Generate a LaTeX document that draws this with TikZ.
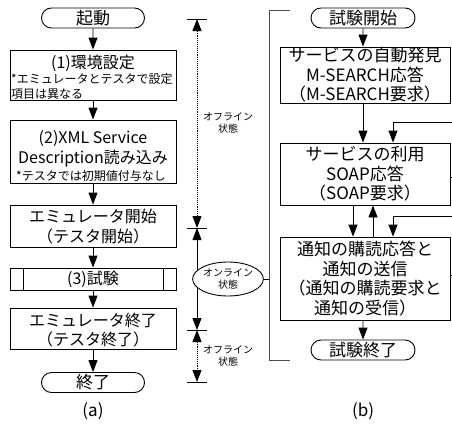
\documentclass[tikz,border=0pt]{standalone}
\usepackage{fontspec}
\setmainfont{Noto Sans CJK JP}
\usetikzlibrary{shapes.misc,shapes.geometric,arrows.meta}
\newcommand\szA{\fontsize{17}{19.5}\selectfont}
\newcommand\szB{\fontsize{16}{19}\selectfont}
\newcommand\szC{\fontsize{12}{14}\selectfont}
\newcommand\szD{\fontsize{10}{12}\selectfont}
\begin{document}
\begin{tikzpicture}[x=1pt,y=-1pt,
  ln/.style={line width=0.9pt, draw=black},
  box/.style={ln, rectangle, inner sep=0pt, minimum width=166pt},
  rbox/.style={ln, rectangle, inner sep=0pt, minimum width=170pt, align=center, font=\szA},
  term/.style={ln, rounded rectangle, inner sep=0pt, minimum height=20pt, font=\szA},
  txt/.style={inner sep=0pt, anchor=base},
  arr/.style={ln, -{Triangle[length=12pt,width=9pt]}},
  dbl/.style={ln, {Triangle[length=12pt,width=9pt]}-{Triangle[length=12pt,width=9pt]}},
  lbl/.style={inner sep=0pt, align=center, font=\szD},
  ]
\useasboundingbox (0,0) rectangle (452,423);

% ---------- (a) ----------
\node[term, minimum width=103pt] (st) at (93,18) {起動};
\node[box, minimum height=50pt] (b1) at (93,75) {};
\node[txt, font=\szB] (b1t) at (93,68) {(1)環境設定};
\node[txt, font=\szC, anchor=base west] (b1s) at (11,83.5) {*エミュレータとテスタで設定};
\node[txt, font=\szC, anchor=base west] (b1u) at (11,98) {項目は異なる};

\node[box, minimum height=63pt] (b2) at (93,151.5) {};
\node[txt, font=\szB] (b2a) at (93,143) {(2)XML Service};
\node[txt, font=\szB] (b2b) at (93,163) {Description読み込み};
\node[txt, font=\szC] (b2c) at (91,180.5) {*テスタでは初期値付与なし};

\node[box, minimum height=42pt] (b3) at (93,226) {};
\node[txt, font=\szB] (b3a) at (93,222.5) {エミュレータ開始};
\node[txt, font=\szB] (b3b) at (93,242) {（テスタ開始）};

\node[box, minimum height=22pt, font=\szB] (b4) at (93,279) {(3)試験};
\coordinate (v1) at (23,0);
\coordinate (v2) at (163,0);
\draw[ln] (b4.north -| v1) -- (b4.south -| v1);
\draw[ln] (b4.north -| v2) -- (b4.south -| v2);

\node[box, minimum height=41pt] (b5) at (93,328.5) {};
\node[txt, font=\szB] (b5a) at (93,326) {エミュレータ終了};
\node[txt, font=\szB] (b5b) at (93,345) {（テスタ終了）};

\node[term, minimum width=103pt] (en) at (93,382.5) {終了};
\node[font=\szA, inner sep=0pt] (la) at (93,411) {(a)};

\draw[arr] (st) -- (b1);
\draw[arr] (b1) -- (b2);
\draw[arr] (b2) -- (b3);
\draw[arr] (b3) -- (b4);
\draw[arr] (b4) -- (b5);
\draw[arr] (b5) -- (en);

% ---------- timeline ----------
\coordinate (t0) at (197,19);
\coordinate (t1) at (197,228);
\coordinate (t2) at (197,330);
\coordinate (t3) at (197,382);
\foreach \c in {t0,t1,t2,t3} \draw[ln] ([xshift=-10pt]\c) -- ([xshift=10pt]\c);
\draw[dbl, densely dotted] (t0) -- (t1);
\draw[dbl] (t1) -- (t2);
\draw[dbl, densely dotted] (t2) -- (t3);
\node[lbl] (off1) at (228,123) {オフライン\\状態};
\node[lbl] (off2) at (228,356) {オフライン\\状態};
\node[ln, ellipse, fill=white, minimum width=63pt, minimum height=34pt, lbl] (on) at (228,279) {オンライン\\状態};

% ---------- bracket ----------
\coordinate (k0) at (290,10);
\coordinate (k1) at (269,10);
\coordinate (k2) at (269,360);
\coordinate (k3) at (290,360);
\draw[ln, draw=black!70, line width=1pt] (k0) -- (k1) -- (k2) -- (k3);
\draw[ln] (on.east) -- (on.east -| k1);

% ---------- (b) ----------
\node[term, minimum width=104pt] (s2) at (363,18) {試験開始};
\node[rbox, minimum height=56pt] (r1) at (365,75) {サービスの自動発見\\M-SEARCH応答\\（M-SEARCH要求）};
\node[rbox, minimum height=62pt] (r2) at (365,174) {サービスの利用\\SOAP応答\\（SOAP要求）};
\node[rbox, minimum height=83pt] (r3) at (365,278.5) {通知の購読応答と\\通知の送信\\（通知の購読要求と\\通知の受信）};
\node[term, minimum width=104pt] (e2) at (363,350) {試験終了};
\node[font=\szA, inner sep=0pt] (lb) at (363,411) {(b)};

\coordinate (xa) at (353,0);
\coordinate (xc) at (373,0);
\coordinate (xb) at (393,0);
\coordinate (xm) at (363,0);
\coordinate (in1) at (453,122);
\coordinate (out1) at (453,177);
\coordinate (in2) at (453,216);
\coordinate (out2) at (453,275);

\draw[arr] (s2) -- (s2 |- r1.north);
\draw[arr] (r1.south -| xm) -- (r2.north -| xm);
\draw[arr] (in1) -| (r2.north -| xb);
\draw[ln] (r2.east |- out1) -- (out1);
\draw[arr] (r2.south -| xa) -- (r3.north -| xa);
\draw[arr] (r3.north -| xc) -- (r2.south -| xc);
\draw[arr] (in2) -| (r3.north -| xb);
\draw[ln] (r3.east |- out2) -- (out2);
\draw[arr] (r3.south -| xm) -- (e2);
\end{tikzpicture}
\end{document}
